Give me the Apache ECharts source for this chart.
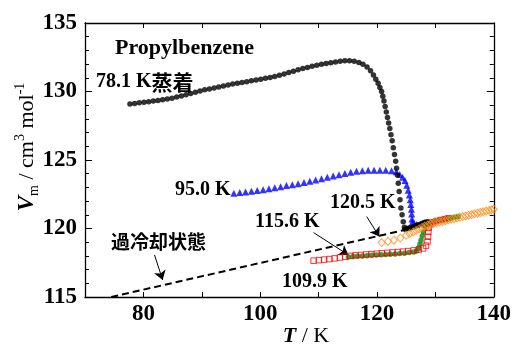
<!DOCTYPE html>
<html>
<head>
<meta charset="utf-8">
<script src="https://cdn.jsdelivr.net/npm/echarts@6/dist/echarts.min.js"></script>
<style>html,body{margin:0;padding:0;background:#fff}#c{width:514px;height:345px}</style>
</head>
<body>
<div id="c"></div>
<script>
// ---- data (T / K, Vm / cm3 mol-1) ----
var xTickLabels = [80, 100, 120, 140];
var yTickLabels = [115, 120, 125, 130, 135];

var vapor781 = [
[77.7,129.09],[78.5,129.13],[79.3,129.17],[80.1,129.21],[80.9,129.25],[81.7,129.30],[82.5,129.34],[83.3,129.39],
[84.1,129.45],[84.9,129.51],[85.7,129.59],[86.5,129.68],[87.3,129.77],[88.1,129.86],[88.9,129.95],[89.7,130.04],
[90.5,130.12],[91.3,130.19],[92.1,130.26],[92.9,130.33],[93.7,130.40],[94.5,130.47],[95.3,130.54],[96.1,130.60],
[96.9,130.66],[97.7,130.72],[98.5,130.78],[99.3,130.84],[100.1,130.90],[100.9,130.97],[101.7,131.03],[102.5,131.10],
[103.3,131.19],[104.1,131.28],[104.9,131.38],[105.7,131.48],[106.5,131.58],[107.3,131.68],[108.1,131.76],[108.9,131.84],
[109.7,131.91],[110.5,131.98],[111.3,132.04],[112.1,132.10],[112.9,132.15],[113.7,132.20],[114.5,132.24],[115.3,132.24],
[116.1,132.20],[116.9,132.11],[117.6,131.98],[118.3,131.78],[118.9,131.52],[119.4,131.20],[119.8,130.90],[120.2,130.60],
[120.5,130.30],[120.8,130.00],[121.0,129.65],[121.2,129.30],[121.4,128.90],[121.6,128.50],[121.8,128.10],[122.0,127.70],
[122.2,127.30],[122.4,126.85],[122.6,126.40],[122.8,125.90],[123.0,125.40],[123.2,124.90],[123.35,124.40],[123.5,123.90],
[123.65,123.30],[123.8,122.70],[123.95,122.10],[124.1,121.50],[124.3,121.00],[124.5,120.50],[124.7,120.10],[124.8,119.95],
[125.1,119.98],[125.4,120.02],[125.7,120.05],[126.0,120.09],[126.3,120.13],[126.6,120.18],[126.9,120.23],[127.2,120.28],
[127.5,120.33],[127.8,120.38],[128.1,120.43],[128.4,120.47],[128.75,120.50]
];

var run950 = [
[95.5,122.58],[96.5,122.62],[97.5,122.67],[98.5,122.72],[99.5,122.77],[100.5,122.83],[101.5,122.90],[102.5,122.97],
[103.5,123.05],[104.5,123.13],[105.5,123.20],[106.5,123.27],[107.5,123.35],[108.5,123.44],[109.5,123.54],[110.5,123.64],
[111.5,123.74],[112.5,123.83],[113.5,123.92],[114.5,124.02],[115.5,124.10],[116.5,124.17],[117.5,124.22],[118.5,124.25],
[119.5,124.26],[120.5,124.26],[121.5,124.25],[122.5,124.22],[123.3,124.15],[123.9,123.95],[124.4,123.75],[124.8,123.50],
[125.1,123.15],[125.35,122.80],[125.55,122.45],[125.7,122.10],[125.8,121.75],[125.9,121.40],[125.95,121.05],[126.0,120.70],
[126.05,120.45],[126.4,120.35],[126.8,120.30]
];

var run1099 = [
[109.15,117.65],[110.05,117.69],[110.95,117.73],[111.85,117.77],[112.75,117.82],[113.65,117.88],[114.55,117.94],[115.45,118.00],
[116.35,118.04],[117.25,118.07],[118.15,118.10],[119.05,118.13],[119.95,118.16],[120.85,118.19],[121.75,118.22],[122.65,118.25],
[123.55,118.28],[124.45,118.31],[125.35,118.35],[126.25,118.40],[127.15,118.46],[127.9,118.55],[128.4,118.75],[128.65,119.05],
[128.75,119.40],[128.8,119.75],[128.85,120.05],[129.1,120.30],[129.6,120.45],[130.2,120.55],[130.9,120.62],[131.6,120.68],
[132.2,120.75]
];

var run1156 = [
[115.1,117.92],[115.9,117.95],[116.7,117.98],[117.5,118.00],[118.3,118.02],[119.1,118.04],[119.9,118.06],[120.7,118.08],
[121.5,118.10],[122.3,118.12],[123.1,118.14],[123.9,118.17],[124.7,118.20],[125.5,118.24],[126.3,118.29],[126.8,118.35],
[127.1,118.55],[127.35,118.85],[127.55,119.15],[127.75,119.45],[127.95,119.75],[128.2,120.15],[128.6,120.30],[129.1,120.40],
[129.7,120.48],[130.3,120.55],[130.9,120.62],[131.5,120.68],[132.1,120.73],[132.7,120.78],[133.3,120.83],[133.9,120.87]
];

var run1205 = [
[120.8,118.97],[121.9,119.06],[122.9,119.15],[124.0,119.30],[125.0,119.50],[125.6,119.62],[126.2,119.74],[126.7,119.85],
[127.2,119.97],[127.7,120.08],[128.2,120.18],[128.7,120.26],[129.2,120.32],[129.7,120.37],[130.2,120.42],[130.7,120.47],
[131.2,120.52],[131.7,120.57],[132.2,120.62],[132.7,120.67],[133.2,120.72],[133.7,120.77],[134.2,120.82],[134.7,120.87],
[135.2,120.92],[135.7,120.97],[136.2,121.02],[136.7,121.07],[137.2,121.12],[137.7,121.17],[138.2,121.22],[138.7,121.27],
[139.2,121.32],[139.6,121.36],[140.0,121.41]
];

var supercooled = [[74.5,115.0],[124.8,119.9]];

// annotation arrows: [start, end] in data units
var arrows = [
  [[81.9,118.07],[83.3,116.24]],
  [[109.15,119.70],[115.1,118.07]],
  [[118.24,120.87],[120.4,119.41]]
];

var SERIF = 'Liberation Serif';
var CJK = 'Noto Sans CJK JP';

var chart = echarts.init(document.getElementById('c'), null, {renderer:'canvas'});

var xBase = {
  type:'value', min:70, max:140, interval:10,
  axisLine:{show:true, onZero:false, lineStyle:{color:'#000', width:1.3}},
  axisTick:{show:true, inside:true, length:5, lineStyle:{color:'#000', width:1}},
  splitLine:{show:false}
};
var yBase = {
  type:'value', min:115, max:135, interval:5,
  axisLine:{show:true, onZero:false, lineStyle:{color:'#000', width:1.3}},
  axisTick:{show:true, inside:true, length:7, lineStyle:{color:'#000', width:1}},
  minorTick:{show:true, splitNumber:5, length:4, lineStyle:{color:'#000', width:1}},
  splitLine:{show:false}, minorSplitLine:{show:false}
};

function txt(x, y, s, size, fam){
  return {type:'text', x:x, y:y, style:{text:s, fontFamily:fam||SERIF, fontWeight:'bold', fontSize:size,
    fill:'#000', align:'left', verticalAlign:'middle'}};
}

var option = {
  animation:false,
  backgroundColor:'#fff',
  grid:{left:85, top:23, width:411, height:274, containLabel:false},
  xAxis:[
    Object.assign({}, xBase, {position:'bottom',
      axisLabel:{show:true, margin:6, color:'#000', fontFamily:SERIF, fontWeight:'bold', fontSize:23,
        formatter:function(v){ return xTickLabels.indexOf(v) >= 0 ? String(v) : ''; }}}),
    Object.assign({}, xBase, {position:'top', axisLabel:{show:false}})
  ],
  yAxis:[
    Object.assign({}, yBase, {position:'left',
      axisLabel:{show:true, margin:8, color:'#000', fontFamily:SERIF, fontWeight:'bold', fontSize:23,
        formatter:function(v){ return yTickLabels.indexOf(v) >= 0 ? String(v) : ''; }}}),
    Object.assign({}, yBase, {position:'right', axisLabel:{show:false}})
  ],
  series:[
    {type:'line', data:supercooled, symbol:'none', silent:true,
     lineStyle:{color:'#000', width:2, type:[7,4]}, z:2,
     markLine:{silent:true, symbol:['none','arrow'], symbolSize:9, precision:4,
       label:{show:false}, lineStyle:{color:'#000', width:1, type:'solid'},
       emphasis:{disabled:true},
       data: arrows.map(function(a){ return [{coord:a[0]},{coord:a[1]}]; })}},
    {type:'scatter', data:run950, symbol:'triangle', symbolSize:7,
     itemStyle:{color:'#0000ff'}, z:3},
    {type:'scatter', data:vapor781, symbol:'circle', symbolSize:5.5,
     itemStyle:{color:'#000'}, z:4},
    {type:'scatter', data:run1156, symbol:'circle', symbolSize:5.5,
     itemStyle:{color:'#0f820f'}, z:5},
    {type:'scatter', data:run1099, symbol:'rect', symbolSize:5.5,
     itemStyle:{color:'rgba(255,255,255,0)', borderColor:'#ff0000', borderWidth:1}, z:6},
    {type:'scatter', data:run1205, symbol:'diamond', symbolSize:[7,8],
     itemStyle:{color:'rgba(255,255,255,0)', borderColor:'#ff8c1a', borderWidth:1}, z:7}
  ],
  graphic:[
    txt(115, 48, 'Propylbenzene', 22),
    {type:'text', x:96, y:82, style:{text:'{a|78.1 K}{b|蒸着}', align:'left', verticalAlign:'middle',
      rich:{a:{fontFamily:SERIF, fontWeight:'bold', fontSize:20, color:'#000'},
            b:{fontFamily:CJK, fontWeight:'bold', fontSize:21, color:'#000'}}}},
    txt(175, 190, '95.0 K', 20),
    txt(330, 203, '120.5 K', 20),
    txt(255, 222, '115.6 K', 20),
    txt(282, 282, '109.9 K', 20),
    txt(111, 242, '過冷却状態', 19, CJK),
    {type:'text', x:306, y:336, style:{text:'{i|T}{n| / K}', align:'center', verticalAlign:'middle',
      rich:{i:{fontFamily:SERIF, fontWeight:'bold', fontStyle:'italic', fontSize:22, color:'#000'},
            n:{fontFamily:SERIF, fontSize:22, color:'#000'}}}},
    {type:'text', x:27, y:147, rotation:Math.PI/2, style:{text:'{v|V}{s|m}{n| / cm}{p|3}{n| mol}{p|-1}', align:'center', verticalAlign:'middle',
      rich:{
        v:{fontFamily:SERIF, fontWeight:'bold', fontStyle:'italic', fontSize:23, color:'#000', lineHeight:28, verticalAlign:'middle'},
        s:{fontFamily:SERIF, fontSize:14, color:'#000', lineHeight:28, verticalAlign:'bottom'},
        n:{fontFamily:SERIF, fontSize:22, color:'#000', lineHeight:28, verticalAlign:'middle'},
        p:{fontFamily:SERIF, fontSize:14, color:'#000', lineHeight:28, verticalAlign:'top'}
      }}}
  ]
};
chart.setOption(option);
</script>
</body>
</html>
